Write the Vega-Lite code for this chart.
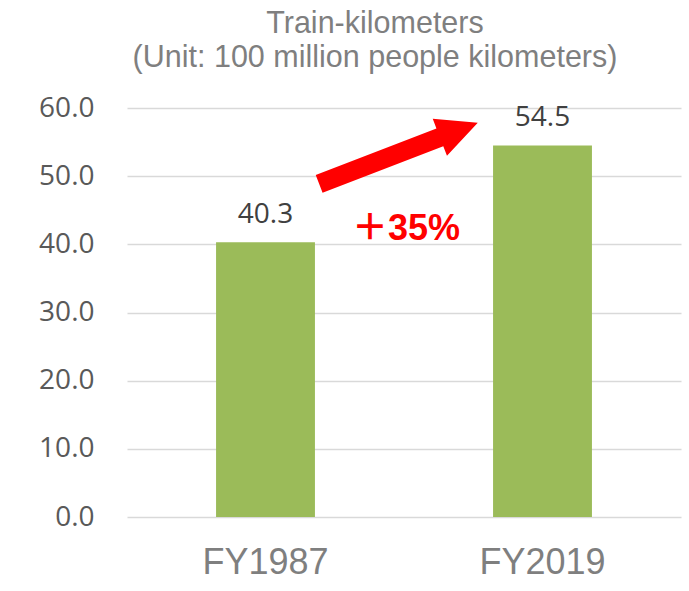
{
  "$schema": "https://vega.github.io/schema/vega-lite/v6.json",
  "width": 554,
  "height": 409,
  "autosize": "none",
  "padding": {"left": 127, "top": 108, "right": 8, "bottom": 74},
  "background": "white",
  "title": {
    "text": ["Train-kilometers", "(Unit: 100 million people kilometers)"],
    "font": "Liberation Sans",
    "fontSize": 30.5,
    "fontWeight": "normal",
    "color": "#7f7f7f",
    "lineHeight": 34,
    "anchor": "middle",
    "frame": "group",
    "baseline": "alphabetic",
    "offset": -3,
    "dx": -29
  },
  "datasets": {
    "bars": [
      {"year": "FY1987", "value": 40.3},
      {"year": "FY2019", "value": 54.5}
    ],
    "arrow": [
      {"pos": 0.98, "level": 53.36}
    ],
    "note": [
      {"pos": 1.007, "level": 40.64, "label": "＋35%"}
    ]
  },
  "config": {
    "view": {"stroke": null}
  },
  "layer": [
    {
      "layer": [
        {
          "data": {"name": "bars"},
          "mark": {"type": "bar", "color": "#9BBB59"},
          "encoding": {
            "x": {
              "field": "year",
              "type": "nominal",
              "sort": null,
              "scale": {"paddingInner": 0.643, "paddingOuter": 0.3215},
              "axis": {
                "title": null,
                "labelAngle": 0,
                "labelFont": "Liberation Sans",
                "labelFontSize": 36,
                "labelColor": "#7f7f7f",
                "labelPadding": 28,
                "ticks": false,
                "domain": false,
                "grid": false
              }
            },
            "y": {
              "field": "value",
              "type": "quantitative",
              "scale": {"domain": [0, 60], "nice": false},
              "axis": {
                "title": null,
                "values": [0, 10, 20, 30, 40, 50, 60],
                "format": ".1f",
                "labelFont": "Open Sans",
                "labelFontSize": 28,
                "labelColor": "#595959",
                "labelPadding": 33,
                "ticks": false,
                "domain": false,
                "grid": true,
                "gridColor": "#d9d9d9",
                "gridWidth": 1.5
              }
            }
          }
        },
        {
          "data": {"name": "bars"},
          "mark": {"type": "text", "font": "Open Sans", "fontSize": 28, "color": "#404040", "baseline": "alphabetic", "dy": -19},
          "encoding": {
            "x": {"field": "year", "type": "nominal", "sort": null},
            "y": {"field": "value", "type": "quantitative"},
            "text": {"field": "value", "type": "quantitative", "format": ".1f"}
          }
        }
      ]
    },
    {
      "layer": [
        {
          "data": {"name": "arrow"},
          "mark": {
            "type": "point",
            "shape": "M -1 -0.112 L 0.522 -0.112 L 0.522 -0.233 L 1 0 L 0.522 0.233 L 0.522 0.112 L -1 0.112 Z",
            "size": 28900,
            "angle": 338.92,
            "filled": true,
            "color": "#FF0000",
            "opacity": 1,
            "strokeWidth": 0
          },
          "encoding": {
            "x": {"field": "pos", "type": "quantitative", "scale": {"domain": [0, 2], "nice": false, "zero": false}, "axis": null},
            "y": {"field": "level", "type": "quantitative"}
          }
        },
        {
          "data": {"name": "note"},
          "mark": {"type": "text", "font": "Liberation Sans, Noto Sans CJK JP", "fontSize": 36, "fontWeight": "bold", "color": "#FF0000", "baseline": "alphabetic", "align": "center"},
          "encoding": {
            "x": {"field": "pos", "type": "quantitative", "axis": null},
            "y": {"field": "level", "type": "quantitative"},
            "text": {"field": "label"}
          }
        }
      ]
    }
  ],
  "resolve": {"scale": {"x": "independent"}}
}
